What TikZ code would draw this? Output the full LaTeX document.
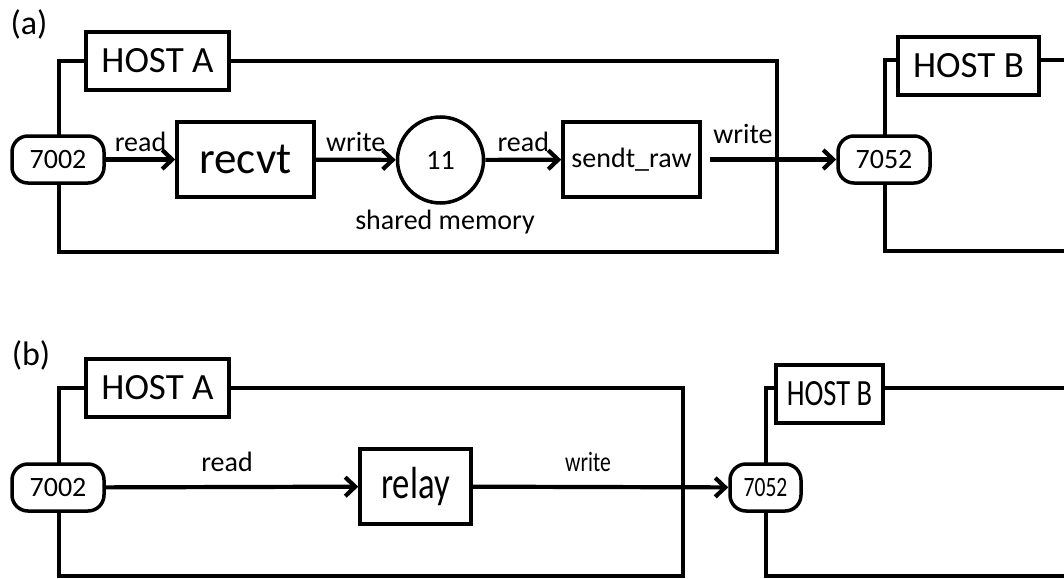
\documentclass[tikz,border=0pt]{standalone}
\usepackage{fontspec}
\usepackage{graphicx}
\setmainfont{Carlito}
\usetikzlibrary{arrows.meta}
\newcommand{\fs}[1]{\fontsize{#1}{#1}\selectfont}
\newcommand{\narrow}[1]{\scalebox{0.77}[1]{#1}}
\tikzset{
  frame/.style={draw, line width=3.5pt},
  hostlabel/.style={draw, fill=white, line width=3.5pt, inner sep=0pt, minimum height=58pt, font=\fs{37}},
  port/.style={draw, fill=white, line width=3.5pt, rounded corners=16pt, inner sep=0pt, minimum width=92pt, minimum height=47pt, font=\fs{28}},
  proc/.style={draw, fill=white, line width=3.5pt, inner sep=0pt, minimum width=137pt, minimum height=75pt},
  shm/.style={draw, circle, fill=white, line width=3.5pt, inner sep=0pt, minimum size=86pt, font=\fs{28}},
  flow/.style={line width=4.2pt, -{Straight Barb[length=10pt,width=19pt]}},
  lbl/.style={inner sep=0pt, font=\fs{28}},
  panel/.style={inner sep=0pt, font=\fs{34}}
}
\begin{document}
\begin{tikzpicture}[x=1pt,y=-1pt]
\clip (0,0) rectangle (1064,578);
\fill[white] (0,0) rectangle (1064,578);

% ---------- (a) ----------
\node[panel] (tagA) at (29,24) {(a)};
\draw[frame] (59,61) rectangle (777,252);
\draw[frame] (1090,60) -| (885,251) -- (1090,251);
\node[hostlabel, minimum width=143pt] (hostA1) at (157.5,61) {HOST A};
\node[hostlabel, minimum width=141pt] (hostB1) at (968.5,66) {HOST B};

\node[port] (in1) at (58,159.5) {7002};
\node[proc, font=\fs{45}] (recvt) at (245.5,159.5) {recvt};
\node[shm] (mem) at (440.5,160) {11};
\node[proc, font=\fs{28}] (send) at (631.5,159.5) {sendt\_raw};
\node[port] (out1) at (884,159.5) {7052};
\node[lbl] (memlbl) at (445,222) {shared memory};

\draw[flow] (in1) -- node[lbl, above=6pt] (r1) {read} (recvt);
\draw[flow] (recvt) -- node[lbl, above=6pt] (w1) {write} (mem);
\draw[flow] (mem) -- node[lbl, above=6pt] (r2) {read} (send);
\draw[flow, shorten <=8pt] (send) -- (out1);
\node[lbl] (w2) at (743,134) {write};

% ---------- (b) ----------
\node[panel] (tagB) at (31,355) {(b)};
\draw[frame] (59,388) rectangle (683,576);
\draw[frame] (1090,388) -| (766,576) -- (1090,576);
\node[hostlabel, minimum width=143pt] (hostA2) at (157.5,388) {HOST A};
\node[hostlabel, minimum width=107pt] (hostB2) at (829.5,394) {\narrow{HOST B}};

\node[port] (in2) at (58,487.5) {7002};
\node[proc, minimum width=111pt, font=\fs{45}] (relay) at (415.5,486.5) {\narrow{relay}};
\node[port, minimum width=71pt] (out2) at (765.5,487.5) {\narrow{7052}};

\draw[flow] (in2) -- (relay);
\node[lbl] (r3) at (227,462) {read};
\draw[flow] (relay) -- (out2);
\node[lbl] (w3) at (588,462) {\narrow{write}};
\end{tikzpicture}
\end{document}
